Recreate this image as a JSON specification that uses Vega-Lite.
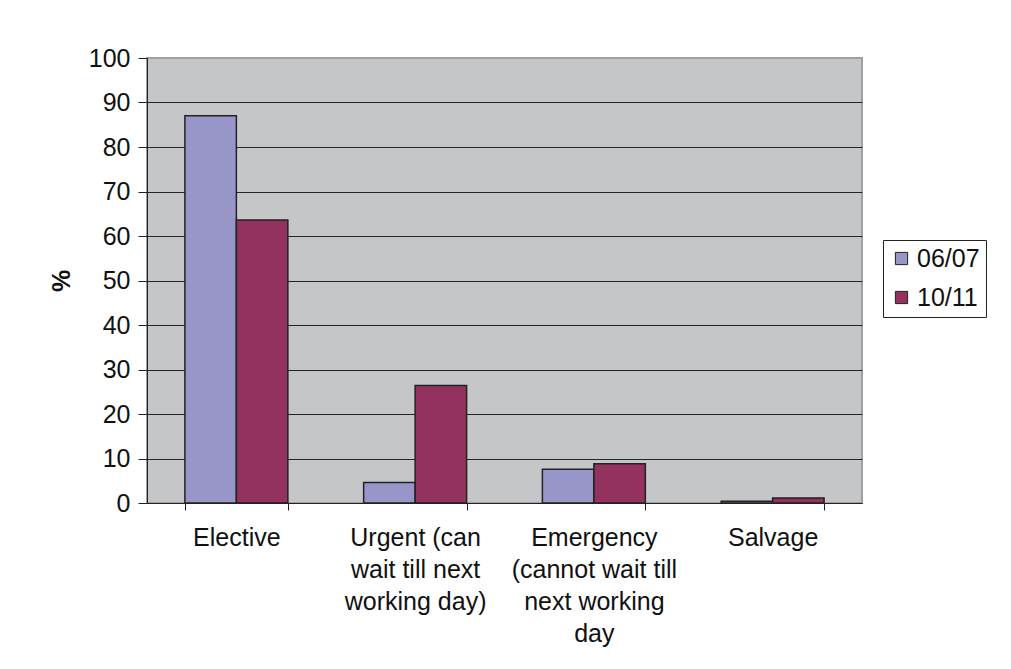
{
  "$schema": "https://vega.github.io/schema/vega-lite/v6.json",
  "width": 715,
  "height": 445,
  "autosize": "none",
  "padding": {"left": 147, "top": 58, "right": 149, "bottom": 166},
  "background": "white",
  "data": {
    "values": [
      {"category": "Elective", "year": "06/07", "pct": 87.0},
      {"category": "Elective", "year": "10/11", "pct": 63.6},
      {"category": "Urgent (can wait till next working day)", "year": "06/07", "pct": 4.6},
      {"category": "Urgent (can wait till next working day)", "year": "10/11", "pct": 26.4},
      {"category": "Emergency (cannot wait till next working day", "year": "06/07", "pct": 7.6},
      {"category": "Emergency (cannot wait till next working day", "year": "10/11", "pct": 8.8},
      {"category": "Salvage", "year": "06/07", "pct": 0.4},
      {"category": "Salvage", "year": "10/11", "pct": 1.1}
    ]
  },
  "mark": {"type": "bar", "stroke": "#222222", "strokeWidth": 1.5},
  "encoding": {
    "x": {
      "field": "category",
      "type": "nominal",
      "sort": null,
      "title": null,
      "scale": {"paddingInner": 0.424, "paddingOuter": 0.212},
      "axis": {
        "labelAngle": 0,
        "tickBand": "extent",
        "labelFont": "Liberation Sans",
        "labelFontSize": 25,
        "labelLineHeight": 32,
        "labelColor": "#111111",
        "labelPadding": 15,
        "labelLimit": 400,
        "tickSize": 7,
        "tickColor": "#222222",
        "domainColor": "#222222",
        "labelExpr": "datum.value == 'Urgent (can wait till next working day)' ? ['Urgent (can', 'wait till next', 'working day)'] : datum.value == 'Emergency (cannot wait till next working day' ? ['Emergency', '(cannot wait till', 'next working', 'day'] : datum.value"
      }
    },
    "xOffset": {"field": "year", "type": "nominal", "scale": {"paddingInner": 0, "paddingOuter": 0}},
    "y": {
      "field": "pct",
      "type": "quantitative",
      "title": "%",
      "scale": {"domain": [0, 100], "nice": false},
      "axis": {
        "values": [0, 10, 20, 30, 40, 50, 60, 70, 80, 90, 100],
        "labelFont": "Liberation Sans",
        "labelFontSize": 25,
        "labelColor": "#111111",
        "labelPadding": 8,
        "tickSize": 9,
        "tickColor": "#222222",
        "domainColor": "#222222",
        "grid": true,
        "gridColor": {"condition": {"test": "datum.value == 100", "value": "#a0a0a0"}, "value": "#262626"},
        "gridWidth": 1,
        "titleFont": "Liberation Sans",
        "titleFontSize": 25,
        "titleFontWeight": "bold",
        "titleColor": "#111111",
        "titlePadding": 14
      }
    },
    "color": {
      "field": "year",
      "type": "nominal",
      "title": null,
      "scale": {"domain": ["06/07", "10/11"], "range": ["#9896c8", "#93325e"]},
      "legend": {
        "orient": "none",
        "legendX": 736,
        "legendY": 182,
        "symbolType": "square",
        "symbolSize": 150,
        "symbolStrokeColor": "#222222",
        "symbolStrokeWidth": 1,
        "labelFont": "Liberation Sans",
        "labelFontSize": 25,
        "labelColor": "#111111",
        "labelOffset": 3,
        "rowPadding": 13,
        "padding": 6,
        "strokeColor": "#222222",
        "fillColor": "white"
      }
    }
  },
  "config": {
    "view": {"fill": "#c5c6c8", "stroke": "#a0a0a0", "strokeWidth": 2}
  }
}
